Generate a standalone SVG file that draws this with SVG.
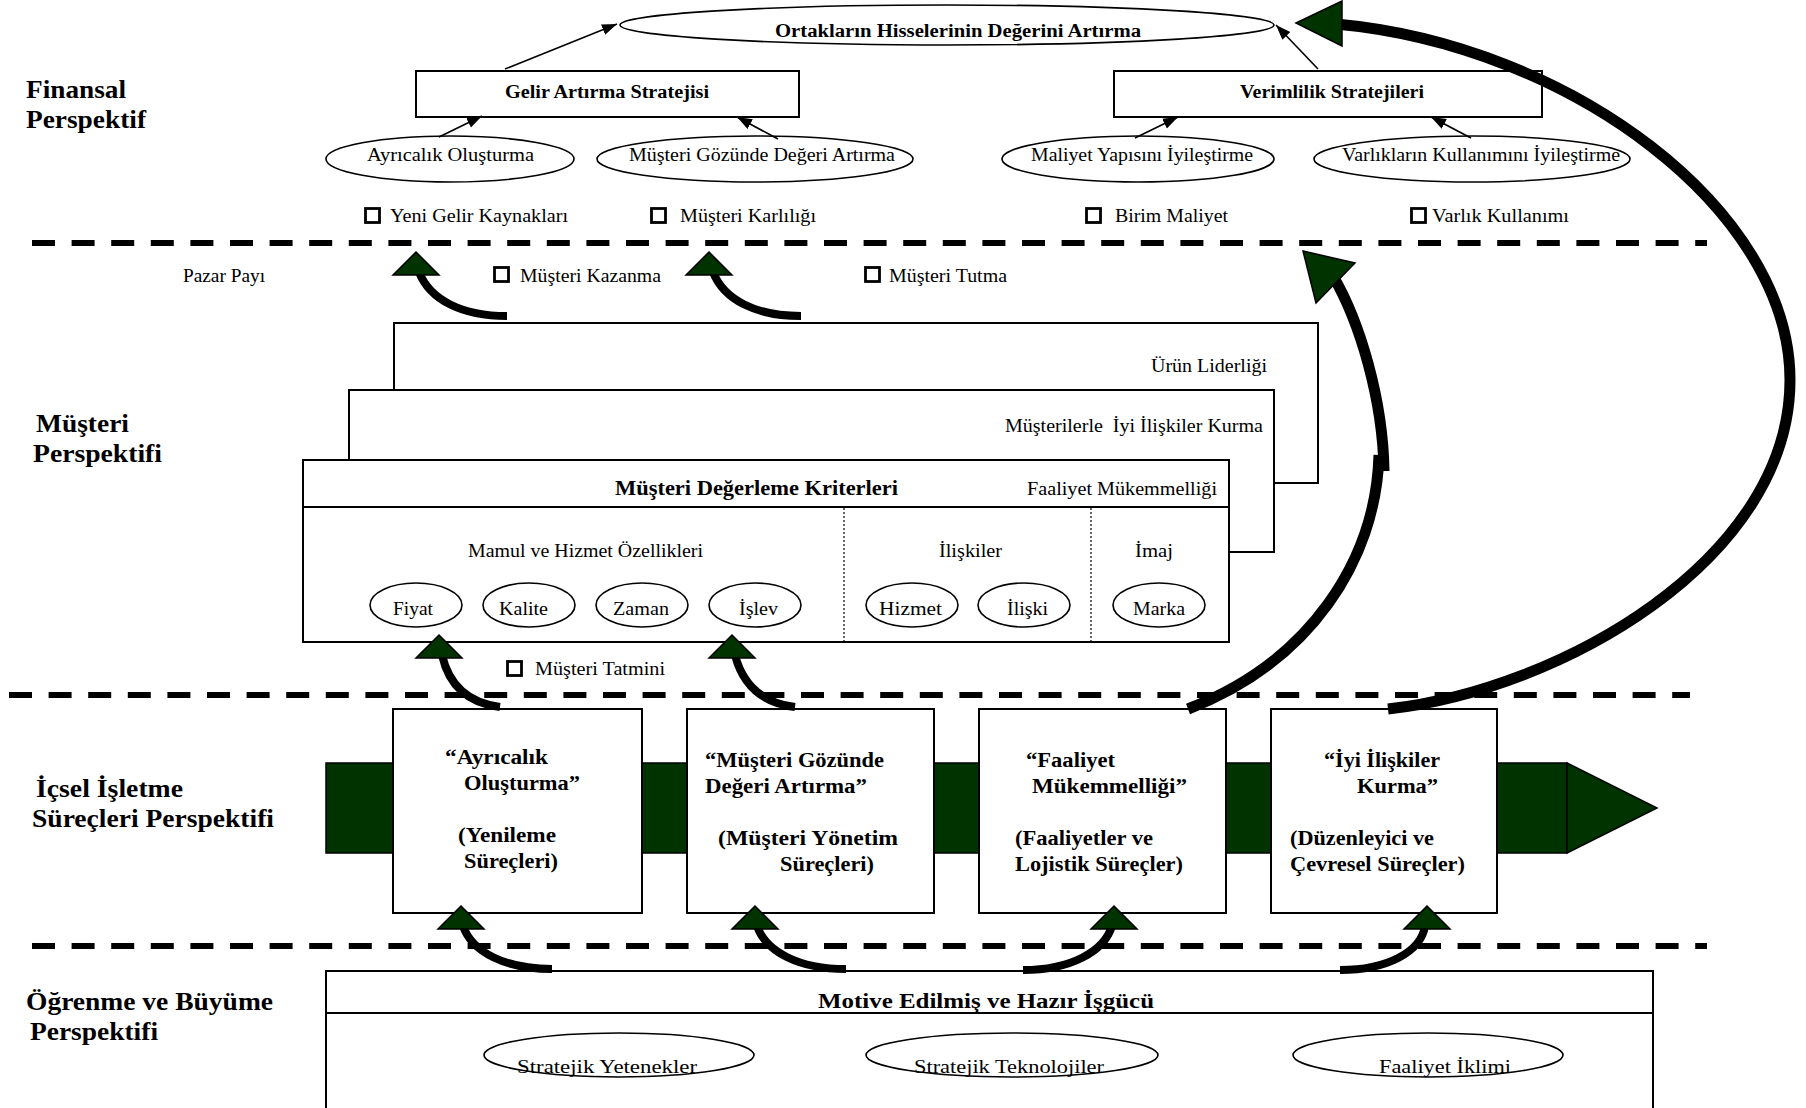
<svg xmlns="http://www.w3.org/2000/svg" xmlns:xlink="http://www.w3.org/1999/xlink" width="1806" height="1108" viewBox="0 0 1806 1108">
  <style>
    text { font-family: "Liberation Serif", "Times New Roman", serif; fill: #000; }
    .lbl { font-size: 25px; font-weight: bold; }
    .b18 { font-size: 18px; font-weight: bold; }
    .b20 { font-size: 20px; font-weight: bold; }
    .r18 { font-size: 18px; }
    .r19 { font-size: 19px; }
    .box { fill: #fff; stroke: #000; stroke-width: 2; }
    .ell { fill: #fff; stroke: #000; stroke-width: 1.6; }
    .chk { fill: none; stroke: #000; stroke-width: 2.8; }
    .dash { stroke: #000; stroke-width: 6; stroke-dasharray: 23 16.6; fill: none; }
    .thin { stroke: #000; stroke-width: 1.6; fill: none; marker-end: url(#ah); }
    .curve { stroke: #000; stroke-width: 8; fill: none; }
    .bigcurve { stroke: #000; stroke-width: 11; fill: none; }
    .green { fill: #003300; stroke: #000; stroke-width: 1.5; }
    .dot { stroke: #000; stroke-width: 1.2; stroke-dasharray: 2 2; }
  </style>
  <defs>
    <marker id="ah" markerUnits="userSpaceOnUse" markerWidth="16" markerHeight="12" refX="15" refY="5.5" orient="auto">
      <path d="M0,0 L15,5.5 L0,11 Z" fill="#000"/>
    </marker>
    <path id="tri" d="M0,0 L23,23 L-23,23 Z"/>
  </defs>

  <rect width="1806" height="1108" fill="#fff"/>

  <!-- perspective labels -->
  <g id="labels">
    <text class="lbl" x="26" y="98" textLength="100" lengthAdjust="spacingAndGlyphs">Finansal</text>
    <text class="lbl" x="26" y="128" textLength="120" lengthAdjust="spacingAndGlyphs">Perspektif</text>
    <text class="lbl" x="36" y="432" textLength="93" lengthAdjust="spacingAndGlyphs">Müşteri</text>
    <text class="lbl" x="33" y="462" textLength="129" lengthAdjust="spacingAndGlyphs">Perspektifi</text>
    <text class="lbl" x="36" y="797" textLength="147" lengthAdjust="spacingAndGlyphs">İçsel İşletme</text>
    <text class="lbl" x="32" y="827" textLength="242" lengthAdjust="spacingAndGlyphs">Süreçleri Perspektifi</text>
    <text class="lbl" x="26" y="1010" textLength="247" lengthAdjust="spacingAndGlyphs">Öğrenme ve Büyüme</text>
    <text class="lbl" x="30" y="1040" textLength="128" lengthAdjust="spacingAndGlyphs">Perspektifi</text>
  </g>

  <!-- section separators -->
  <g id="separators">
    <line class="dash" x1="32" y1="243" x2="1707" y2="243"/>
    <line class="dash" x1="9" y1="695" x2="1690" y2="695"/>
    <line class="dash" x1="32" y1="946" x2="1707" y2="946"/>
  </g>

  <!-- financial perspective -->
  <g id="hisse-degeri">
    <ellipse class="ell" cx="947" cy="25" rx="327" ry="20"/>
    <text class="b18" x="775" y="37" textLength="366" lengthAdjust="spacingAndGlyphs">Ortakların Hisselerinin Değerini Artırma</text>
  </g>
  <g id="gelir-artirma">
    <rect class="box" x="416" y="71" width="383" height="46"/>
    <text class="b18" x="505" y="98" textLength="204" lengthAdjust="spacingAndGlyphs">Gelir Artırma Stratejisi</text>
  </g>
  <g id="verimlilik">
    <rect class="box" x="1114" y="71" width="428" height="46"/>
    <text class="b18" x="1240" y="98" textLength="184" lengthAdjust="spacingAndGlyphs">Verimlilik Stratejileri</text>
  </g>
  <g id="ayricalik">
    <ellipse class="ell" cx="450" cy="159" rx="124" ry="23"/>
    <text class="r18" x="367" y="161" textLength="167" lengthAdjust="spacingAndGlyphs">Ayrıcalık Oluşturma</text>
  </g>
  <g id="musteri-gozunde">
    <ellipse class="ell" cx="755" cy="159" rx="158" ry="23"/>
    <text class="r18" x="629" y="161" textLength="266" lengthAdjust="spacingAndGlyphs">Müşteri Gözünde Değeri Artırma</text>
  </g>
  <g id="maliyet-yapisi">
    <ellipse class="ell" cx="1138" cy="159" rx="136" ry="23"/>
    <text class="r18" x="1031" y="161" textLength="222" lengthAdjust="spacingAndGlyphs">Maliyet Yapısını İyileştirme</text>
  </g>
  <g id="varlik-kullanimi">
    <ellipse class="ell" cx="1472" cy="159" rx="158" ry="23"/>
    <text class="r18" x="1342" y="161" textLength="278" lengthAdjust="spacingAndGlyphs">Varlıkların Kullanımını İyileştirme</text>
  </g>

  <!-- measures -->
  <g id="olcutler">
    <rect class="chk" x="365.5" y="208.5" width="14" height="14"/>
    <text class="r18" x="390" y="222" textLength="178" lengthAdjust="spacingAndGlyphs">Yeni Gelir Kaynakları</text>
    <rect class="chk" x="651.5" y="208.5" width="14" height="14"/>
    <text class="r18" x="680" y="222" textLength="136" lengthAdjust="spacingAndGlyphs">Müşteri Karlılığı</text>
    <rect class="chk" x="1086.5" y="208.5" width="14" height="14"/>
    <text class="r18" x="1115" y="222" textLength="113" lengthAdjust="spacingAndGlyphs">Birim Maliyet</text>
    <rect class="chk" x="1411.5" y="208.5" width="14" height="14"/>
    <text class="r18" x="1432" y="222" textLength="137" lengthAdjust="spacingAndGlyphs">Varlık Kullanımı</text>
    <text class="r18" x="183" y="282" textLength="82" lengthAdjust="spacingAndGlyphs">Pazar Payı</text>
    <rect class="chk" x="494.5" y="267.5" width="14" height="14"/>
    <text class="r18" x="520" y="282" textLength="141" lengthAdjust="spacingAndGlyphs">Müşteri Kazanma</text>
    <rect class="chk" x="865.5" y="267.5" width="14" height="14"/>
    <text class="r18" x="889" y="282" textLength="118" lengthAdjust="spacingAndGlyphs">Müşteri Tutma</text>
    <rect class="chk" x="507.5" y="661.5" width="14" height="14"/>
    <text class="r18" x="535" y="675" textLength="130" lengthAdjust="spacingAndGlyphs">Müşteri Tatmini</text>
  </g>

  <!-- customer perspective: stacked value propositions -->
  <g id="urun-liderligi">
    <rect class="box" x="394" y="323" width="924" height="160"/>
    <text class="r18" x="1151" y="372" textLength="116" lengthAdjust="spacingAndGlyphs">Ürün Liderliği</text>
  </g>
  <g id="iyi-iliskiler">
    <rect class="box" x="349" y="390" width="925" height="162"/>
    <text class="r18" x="1005" y="432" textLength="258" lengthAdjust="spacingAndGlyphs">Müşterilerle&#160; İyi İlişkiler Kurma</text>
  </g>
  <g id="degerleme-kriterleri">
    <rect class="box" x="303" y="460" width="926" height="182"/>
    <line x1="303" y1="507" x2="1229" y2="507" stroke="#000" stroke-width="2"/>
    <line class="dot" x1="844" y1="508" x2="844" y2="641"/>
    <line class="dot" x1="1091" y1="508" x2="1091" y2="641"/>
    <text class="b20" x="615" y="495" textLength="283" lengthAdjust="spacingAndGlyphs">Müşteri Değerleme Kriterleri</text>
    <text class="r18" x="1027" y="495" textLength="190" lengthAdjust="spacingAndGlyphs">Faaliyet Mükemmelliği</text>
    <text class="r18" x="468" y="557" textLength="235" lengthAdjust="spacingAndGlyphs">Mamul ve Hizmet Özellikleri</text>
    <text class="r18" x="939" y="557" textLength="63" lengthAdjust="spacingAndGlyphs">İlişkiler</text>
    <text class="r18" x="1135" y="557" textLength="38" lengthAdjust="spacingAndGlyphs">İmaj</text>
  </g>
  <g id="fiyat"><ellipse class="ell" cx="416" cy="605" rx="46" ry="22"/><text class="r18" x="393" y="615" textLength="40" lengthAdjust="spacingAndGlyphs">Fiyat</text></g>
  <g id="kalite"><ellipse class="ell" cx="529" cy="605" rx="46" ry="22"/><text class="r18" x="499" y="615" textLength="49" lengthAdjust="spacingAndGlyphs">Kalite</text></g>
  <g id="zaman"><ellipse class="ell" cx="642" cy="605" rx="46" ry="22"/><text class="r18" x="613" y="615" textLength="56" lengthAdjust="spacingAndGlyphs">Zaman</text></g>
  <g id="islev"><ellipse class="ell" cx="755" cy="605" rx="46" ry="22"/><text class="r18" x="739" y="615" textLength="39" lengthAdjust="spacingAndGlyphs">İşlev</text></g>
  <g id="hizmet"><ellipse class="ell" cx="912" cy="605" rx="46" ry="22"/><text class="r18" x="879" y="615" textLength="63" lengthAdjust="spacingAndGlyphs">Hizmet</text></g>
  <g id="iliski"><ellipse class="ell" cx="1024" cy="605" rx="46" ry="22"/><text class="r18" x="1007" y="615" textLength="41" lengthAdjust="spacingAndGlyphs">İlişki</text></g>
  <g id="marka"><ellipse class="ell" cx="1159" cy="605" rx="46" ry="22"/><text class="r18" x="1133" y="615" textLength="52" lengthAdjust="spacingAndGlyphs">Marka</text></g>

  <!-- internal process perspective: value chain band -->
  <g id="surec-bandi">
    <rect class="green" x="326" y="763" width="1241" height="90"/>
    <polygon class="green" points="1567,763 1657,808 1567,853"/>
  </g>
  <g id="surec-ayricalik">
    <rect class="box" x="393" y="709" width="249" height="204"/>
    <text class="b20" x="445" y="764" textLength="103" lengthAdjust="spacingAndGlyphs">“Ayrıcalık</text>
    <text class="b20" x="464" y="790" textLength="116" lengthAdjust="spacingAndGlyphs">Oluşturma”</text>
    <text class="b20" x="458" y="842" textLength="98" lengthAdjust="spacingAndGlyphs">(Yenileme</text>
    <text class="b20" x="464" y="868" textLength="94" lengthAdjust="spacingAndGlyphs">Süreçleri)</text>
  </g>
  <g id="surec-musteri">
    <rect class="box" x="687" y="709" width="247" height="204"/>
    <text class="b20" x="705" y="767" textLength="179" lengthAdjust="spacingAndGlyphs">“Müşteri Gözünde</text>
    <text class="b20" x="705" y="793" textLength="162" lengthAdjust="spacingAndGlyphs">Değeri Artırma”</text>
    <text class="b20" x="718" y="845" textLength="180" lengthAdjust="spacingAndGlyphs">(Müşteri Yönetim</text>
    <text class="b20" x="780" y="871" textLength="94" lengthAdjust="spacingAndGlyphs">Süreçleri)</text>
  </g>
  <g id="surec-faaliyet">
    <rect class="box" x="979" y="709" width="247" height="204"/>
    <text class="b20" x="1026" y="767" textLength="89" lengthAdjust="spacingAndGlyphs">“Faaliyet</text>
    <text class="b20" x="1032" y="793" textLength="155" lengthAdjust="spacingAndGlyphs">Mükemmelliği”</text>
    <text class="b20" x="1015" y="845" textLength="138" lengthAdjust="spacingAndGlyphs">(Faaliyetler ve</text>
    <text class="b20" x="1015" y="871" textLength="168" lengthAdjust="spacingAndGlyphs">Lojistik Süreçler)</text>
  </g>
  <g id="surec-iliskiler">
    <rect class="box" x="1271" y="709" width="226" height="204"/>
    <text class="b20" x="1324" y="767" textLength="116" lengthAdjust="spacingAndGlyphs">“İyi İlişkiler</text>
    <text class="b20" x="1357" y="793" textLength="81" lengthAdjust="spacingAndGlyphs">Kurma”</text>
    <text class="b20" x="1290" y="845" textLength="144" lengthAdjust="spacingAndGlyphs">(Düzenleyici ve</text>
    <text class="b20" x="1290" y="871" textLength="175" lengthAdjust="spacingAndGlyphs">Çevresel Süreçler)</text>
  </g>

  <!-- learning and growth perspective -->
  <g id="isgucu">
    <rect class="box" x="326" y="971" width="1327" height="160"/>
    <line x1="326" y1="1013" x2="1653" y2="1013" stroke="#000" stroke-width="2"/>
    <text class="b20" x="818" y="1008" textLength="336" lengthAdjust="spacingAndGlyphs">Motive Edilmiş ve Hazır İşgücü</text>
  </g>
  <g id="stratejik-yetenekler">
    <ellipse class="ell" cx="619" cy="1055" rx="135" ry="22"/>
    <text class="r19" x="517" y="1073" textLength="180" lengthAdjust="spacingAndGlyphs">Stratejik Yetenekler</text>
  </g>
  <g id="stratejik-teknolojiler">
    <ellipse class="ell" cx="1012" cy="1055" rx="146" ry="22"/>
    <text class="r19" x="914" y="1073" textLength="190" lengthAdjust="spacingAndGlyphs">Stratejik Teknolojiler</text>
  </g>
  <g id="faaliyet-iklimi">
    <ellipse class="ell" cx="1428" cy="1055" rx="135" ry="22"/>
    <text class="r19" x="1379" y="1073" textLength="132" lengthAdjust="spacingAndGlyphs">Faaliyet İklimi</text>
  </g>

  <!-- connectors -->
  <g id="connectors">
    <!-- thin strategy arrows -->
    <line class="thin" x1="505" y1="69" x2="617" y2="24"/>
    <line class="thin" x1="1318" y1="69" x2="1276" y2="25"/>
    <line class="thin" x1="439" y1="137" x2="482" y2="116"/>
    <line class="thin" x1="778" y1="139" x2="737" y2="117"/>
    <line class="thin" x1="1135" y1="138" x2="1178" y2="117"/>
    <line class="thin" x1="1471" y1="138" x2="1431" y2="117"/>

    <!-- curved cause-effect arrows -->
    <path class="curve" d="M507,316 C462,316 430,300 419,272"/>
    <path class="curve" d="M801,316 C756,316 724,300 713,272"/>
    <path class="curve" d="M500,707 C468,703 449,686 442,655"/>
    <path class="curve" d="M795,707 C763,703 743,686 735,655"/>
    <path class="curve" d="M552,969 C505,969 472,952 463,926"/>
    <path class="curve" d="M846,969 C799,969 766,952 757,926"/>
    <path class="curve" d="M1023,970 C1070,970 1104,952 1112,926"/>
    <path class="curve" d="M1340,970 C1387,970 1421,952 1425,926"/>
    <use href="#tri" x="416" y="252" class="green"/>
    <use href="#tri" x="709" y="252" class="green"/>
    <use href="#tri" x="439" y="635" class="green"/>
    <use href="#tri" x="732" y="635" class="green"/>
    <use href="#tri" x="461" y="906" class="green"/>
    <use href="#tri" x="755" y="906" class="green"/>
    <use href="#tri" x="1114" y="906" class="green"/>
    <use href="#tri" x="1427" y="906" class="green"/>

    <!-- long arrows from internal processes -->
    <path class="bigcurve" d="M1333,276 C1360,322 1383,400 1384,471"/>
    <path class="bigcurve" d="M1379,455 C1376,560 1310,662 1188,709"/>
    <polygon class="green" points="1303,251 1355,263 1316,303"/>
    <path class="bigcurve" d="M1388,709 C1560,690 1790,560 1790,380 C1790,210 1570,45 1336,24"/>
    <polygon class="green" points="1296,23 1342,1 1342,46"/>
  </g>
</svg>
